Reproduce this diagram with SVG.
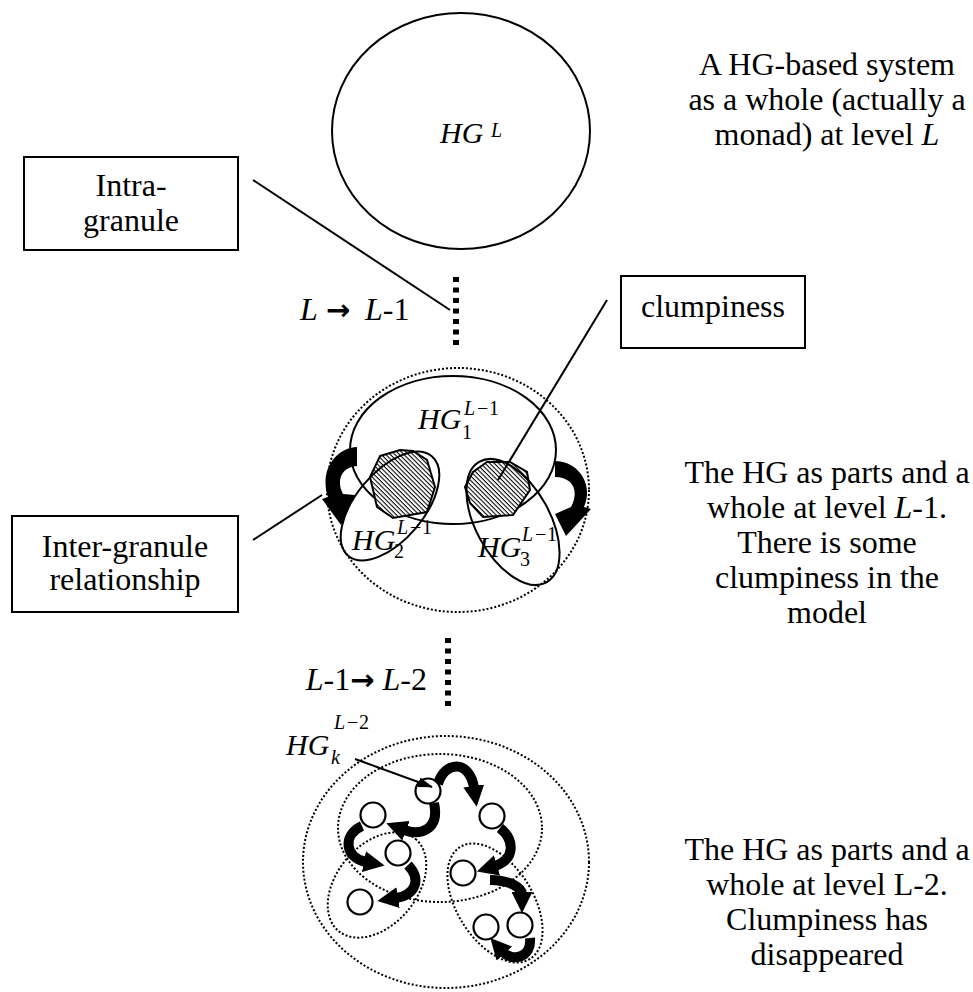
<svg xmlns="http://www.w3.org/2000/svg" width="973" height="992" viewBox="0 0 973 992">
<defs>
<style>
.ln{fill:none;stroke:#000;stroke-width:2}
.dot{fill:none;stroke:#000;stroke-width:2;stroke-dasharray:2 2}
.box{fill:#fff;stroke:#000;stroke-width:2}
.lvl{fill:none;stroke:#000;stroke-width:6;stroke-dasharray:5 5.5}
.swoosh{fill:#000;stroke:none}
.flow{fill:none;stroke:#000;stroke-width:10;marker-end:url(#head)}
.node{fill:#fff;stroke:#000;stroke-width:2.2}
.clump{fill:url(#hatch);stroke:#000;stroke-width:2}
text{font-family:"Liberation Serif","Times New Roman",serif;fill:#000}
.t{font-size:32px;text-anchor:middle}
.hg{font-size:30px;font-style:italic}
.idx{font-size:20px}
.it{font-style:italic}
.ag{font-family:"DejaVu Sans",sans-serif;font-weight:bold;font-style:normal}
</style>
<pattern id="hatch" patternUnits="userSpaceOnUse" width="3.2" height="3.2" patternTransform="rotate(45)">
<rect width="3.2" height="3.2" fill="#fff"/>
<rect width="3.2" height="1.05" fill="#000"/>
</pattern>
<marker id="head" viewBox="0 0 10 10" refX="1" refY="5" markerWidth="2.1" markerHeight="2.1" orient="auto" markerUnits="strokeWidth">
<path d="M0,0 L10,5 L0,10 Z" fill="#000"/>
</marker>
<marker id="tip" viewBox="0 0 15 10" refX="14" refY="5" markerWidth="15" markerHeight="10" orient="auto" markerUnits="userSpaceOnUse">
<path d="M0,0 L15,5 L0,10 Z" fill="#000"/>
</marker>
</defs>
<rect width="973" height="992" fill="#fff"/>

<!-- level L: the whole system -->
<g id="level-L">
<ellipse class="ln" cx="461" cy="131" rx="129" ry="118"/>
<text class="hg" x="440" y="143" font-size="33">HG</text>
<text class="idx it" x="491" y="137" font-size="22">L</text>
</g>

<!-- level L-1: parts and whole with clumps -->
<g id="level-L1">
<ellipse class="dot" cx="458" cy="490" rx="131" ry="122"/>
<ellipse class="ln" cx="453" cy="450" rx="103" ry="74"/>
<polygon class="clump" points="380,456 400,450 413,451 427,460 435,487 427,512 393,518 377,507 370,477"/>
<polygon class="clump" points="465,487 473,472 487,462 510,462 527,472 530,490 513,515 483,517 470,503"/>
<ellipse class="ln" cx="390" cy="506" rx="65" ry="34" transform="rotate(-50 390 506)"/>
<ellipse class="ln" cx="513" cy="522" rx="69" ry="37" transform="rotate(61 513 522)"/>
<path class="swoosh" d="M357 447 C336 448 319 470 328 497 L322 499 L341 525 L355 495 L343 494 C336 481 341 467 357 466 Z"/>
<path class="swoosh" d="M555 461 C578 461 594 484 584 507 L591 509 L566 536 L555 514 L571 507 C580 490 572 477 555 477 Z"/>
<text class="hg" x="418" y="429">HG</text>
<text class="idx" x="462" y="439">1</text>
<text class="idx" y="415"><tspan class="it" x="464">L</tspan><tspan x="477">−</tspan><tspan x="489">1</tspan></text>
<text class="hg" x="352" y="550">HG</text>
<text class="idx" x="394" y="558">2</text>
<text class="idx" y="534"><tspan class="it" x="397">L</tspan><tspan x="410">−</tspan><tspan x="422">1</tspan></text>
<text class="hg" x="478" y="557">HG</text>
<text class="idx" x="520" y="566">3</text>
<text class="idx" y="541"><tspan class="it" x="522">L</tspan><tspan x="535">−</tspan><tspan x="547">1</tspan></text>
</g>

<!-- level L-2: fine granules, no clumps -->
<g id="level-L2">
<ellipse class="dot" cx="446" cy="862" rx="143" ry="126"/>
<ellipse class="dot" cx="440" cy="828" rx="102" ry="74"/>
<ellipse class="dot" cx="377" cy="885" rx="60" ry="40" transform="rotate(-50 377 885)"/>
<ellipse class="dot" cx="495" cy="903" rx="66" ry="38" transform="rotate(58 495 903)"/>
<path class="flow" d="M438 784 C445 760 470 760 474 788"/>
<path class="flow" d="M500 828 C515 840 515 860 495 866"/>
<path class="flow" d="M490 880 C510 880 522 888 522 894"/>
<path class="flow" d="M530 938 C532 958 512 962 503 952"/>
<path class="flow" d="M434 803 C440 830 420 836 404 830"/>
<path class="flow" d="M362 826 C342 835 345 858 366 862"/>
<path class="flow" d="M408 865 C422 880 415 895 396 898"/>
<circle class="node" cx="428" cy="791" r="12.5"/>
<circle class="node" cx="492" cy="816" r="12.5"/>
<circle class="node" cx="373" cy="815" r="12.5"/>
<circle class="node" cx="398" cy="853" r="12.5"/>
<circle class="node" cx="463" cy="873" r="12.5"/>
<circle class="node" cx="360" cy="902" r="12.5"/>
<circle class="node" cx="486" cy="927" r="12.5"/>
<circle class="node" cx="520" cy="925" r="12.5"/>
<text class="hg" x="286" y="755">HG</text>
<text class="idx it" x="331" y="764">k</text>
<text class="idx" y="729"><tspan class="it" x="334">L</tspan><tspan x="347">−</tspan><tspan x="359">2</tspan></text>
</g>

<!-- connectors -->
<g id="connectors">
<line class="lvl" x1="456" y1="277" x2="456" y2="346"/>
<line class="lvl" x1="448" y1="638" x2="448" y2="707"/>
<line class="ln" x1="253" y1="180" x2="450" y2="310"/>
<line class="ln" x1="607" y1="300" x2="498" y2="480"/>
<line class="ln" x1="253" y1="540" x2="322" y2="495"/>
<line class="ln" x1="355" y1="759" x2="432" y2="787" marker-end="url(#tip)"/>
</g>

<!-- callout boxes -->
<g id="intra-granule">
<rect class="box" x="24" y="157" width="214" height="93"/>
<text class="t" x="131" y="196">Intra-</text>
<text class="t" x="131" y="231">granule</text>
</g>
<g id="clumpiness">
<rect class="box" x="621" y="276" width="184" height="72"/>
<text class="t" x="713" y="317">clumpiness</text>
</g>
<g id="inter-granule">
<rect class="box" x="12" y="516" width="226" height="96"/>
<text class="t" x="125" y="557">Inter-granule</text>
<text class="t" x="125" y="590">relationship</text>
</g>

<!-- level transitions -->
<g id="step-labels" font-size="32">
<text y="320"><tspan class="it" x="300">L</tspan><tspan class="ag" x="326" font-size="29">→</tspan><tspan class="it" x="365">L</tspan><tspan>-1</tspan></text>
<text x="427" y="690" text-anchor="end"><tspan class="it">L</tspan>-1<tspan class="ag" font-size="29">→</tspan> <tspan class="it">L</tspan>-2</text>
</g>

<!-- descriptions -->
<g id="desc-L">
<text class="t" x="827" y="75">A HG-based system</text>
<text class="t" x="827" y="110">as a whole (actually a</text>
<text class="t" x="827" y="145">monad) at level <tspan class="it">L</tspan></text>
</g>
<g id="desc-L1">
<text class="t" x="827" y="483">The HG as parts and a</text>
<text class="t" x="827" y="518">whole at level <tspan class="it">L</tspan>-1.</text>
<text class="t" x="827" y="553">There is some</text>
<text class="t" x="827" y="588">clumpiness in the</text>
<text class="t" x="827" y="623">model</text>
</g>
<g id="desc-L2">
<text class="t" x="827" y="860">The HG as parts and a</text>
<text class="t" x="827" y="895">whole at level L-2.</text>
<text class="t" x="827" y="930">Clumpiness has</text>
<text class="t" x="827" y="965">disappeared</text>
</g>
</svg>
